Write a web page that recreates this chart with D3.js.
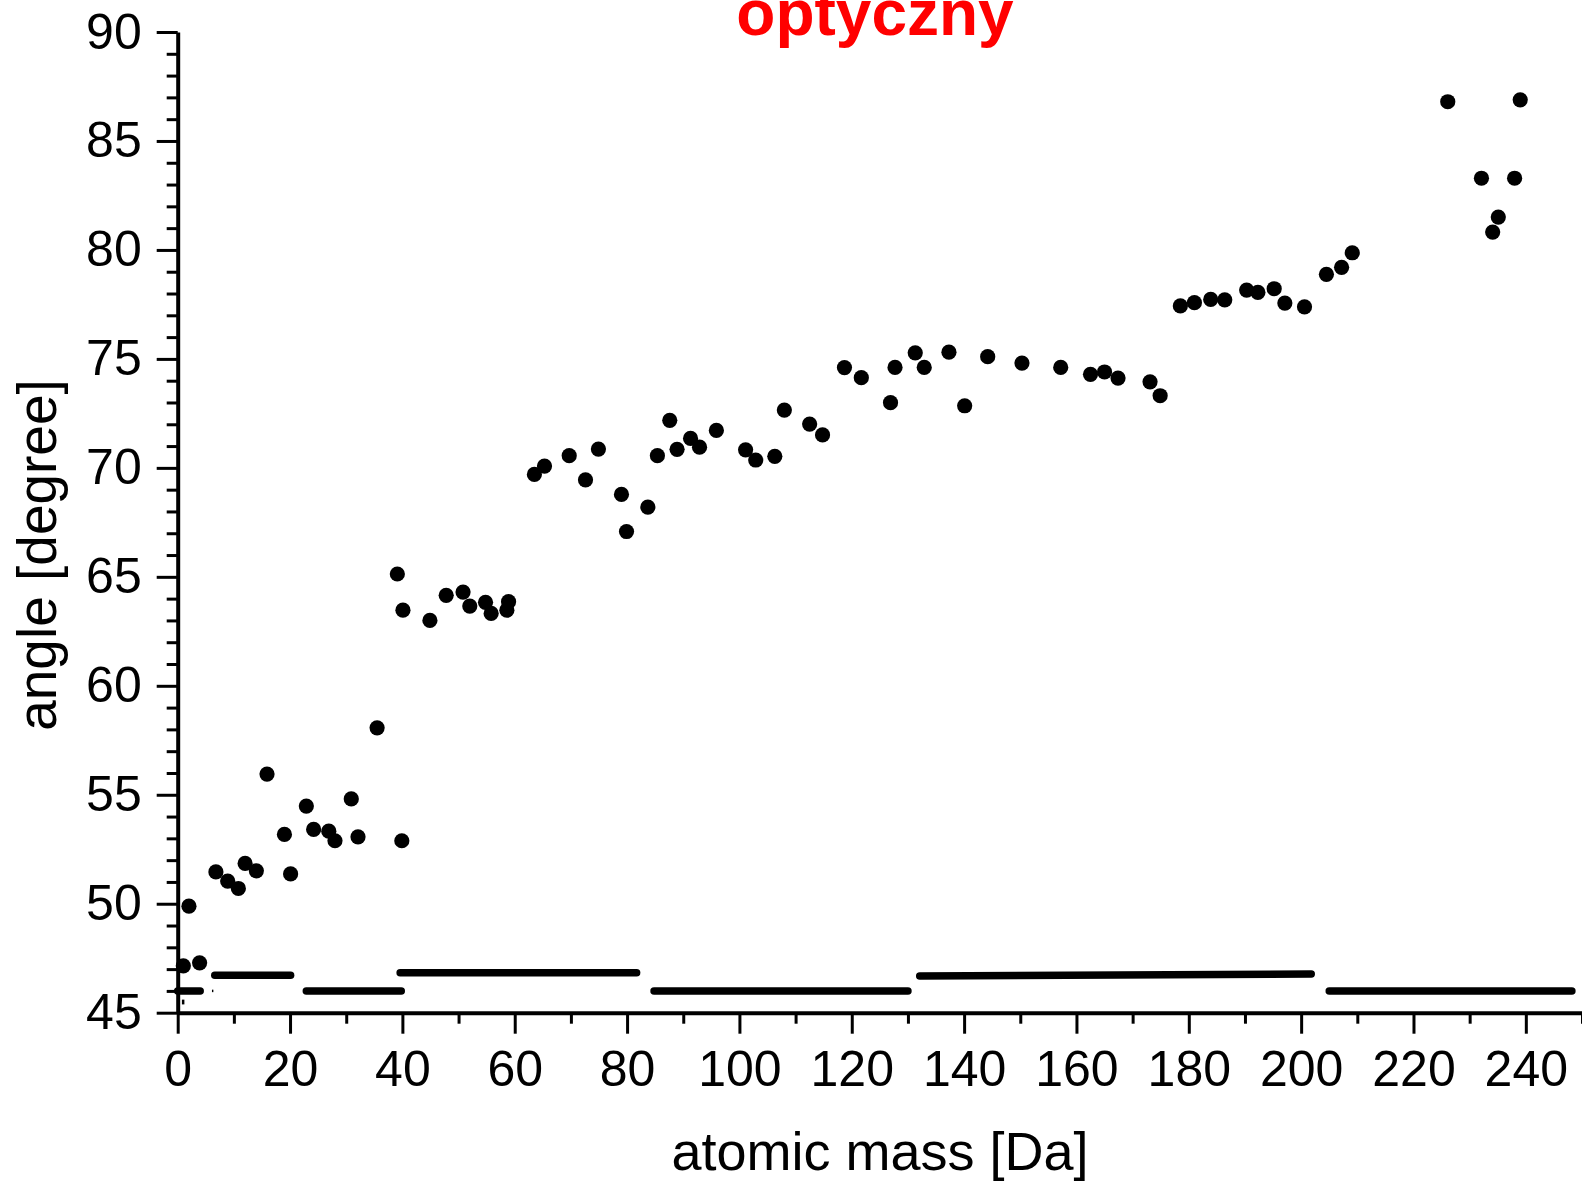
<!DOCTYPE html>
<html>
<head>
<meta charset="utf-8">
<script src="https://cdn.jsdelivr.net/npm/d3@7"></script>
<style>
  html, body { margin: 0; padding: 0; background: #fff; overflow: hidden; }
  svg { display: block; }
</style>
</head>
<body>
<svg id="chart" width="1582" height="1183"></svg>
<script>
// ---- data ----
const massX = [1.0, 2.0, 3.9, 6.8, 8.9, 10.8, 12.0, 14.0, 15.9, 19.0, 20.1, 22.9, 24.2, 26.9, 28.0, 30.9, 32.1, 35.5,
  39.1, 39.9, 40.1, 44.9, 47.8, 50.8, 52.0, 54.8, 55.8, 58.6, 58.9,
  63.5, 65.3, 69.7, 72.6, 74.9, 79.0, 79.9, 83.7, 85.4, 87.6, 88.9, 91.3, 92.9, 95.9,
  101.1, 102.9, 106.3, 108.0, 112.5, 114.8, 118.7, 121.7, 126.9, 127.7, 131.3, 132.9, 137.3, 140.1, 144.2,
  150.3, 157.2, 162.5, 165.0, 167.4, 173.1, 174.9,
  178.5, 181.0, 183.9, 186.4, 190.3, 192.3, 195.2, 197.1, 200.6, 204.5, 207.2, 209.1,
  226.1, 232.1, 234.1, 235.1, 238.0, 239.0];
const angleY = [47.15, 49.89, 47.29, 51.46, 51.04, 50.70, 51.85, 51.51, 55.95, 53.18, 51.37, 54.48, 53.41, 53.33, 52.89, 54.81, 53.07, 58.07,
  65.13, 52.89, 63.47, 63.0, 64.15, 64.3, 63.66, 63.83, 63.32, 63.47, 63.86,
  69.70, 70.08, 70.56, 69.45, 70.86, 68.78, 67.08, 68.2, 70.56, 72.18, 70.85, 71.35, 70.95, 71.72,
  70.83, 70.36, 70.53, 72.65, 72.01, 71.51, 74.6, 74.14, 72.99, 74.61, 75.28, 74.61, 75.31, 72.85, 75.1,
  74.81, 74.61, 74.29, 74.4, 74.12, 73.95, 73.31,
  77.43, 77.58, 77.73, 77.71, 78.16, 78.05, 78.22, 77.56, 77.39, 78.88, 79.2, 79.87,
  86.8, 83.29, 80.82, 81.51, 83.29, 86.89];

// horizontal level segments
const segX0 = [0.0, 6.6, 22.9, 39.6, 84.8, 132.1, 205.0];
const segX1 = [4.0, 20.1, 39.8, 81.7, 130.0, 201.8, 248.2];
const segY0 = [46.0, 46.72, 46.0, 46.83, 46.0, 46.68, 46.0];
const segY1 = [46.0, 46.72, 46.0, 46.83, 46.0, 46.78, 46.0];
// small stray marks
const markX0 = [6.1, 0.97];
const markX1 = [6.35, 0.97];
const markY0 = [46.0, 45.38];
const markY1 = [46.0, 45.6];

const xMajorTicks = d3.range(0, 251, 20);
const xMinorTicks = d3.range(0, 251, 10);
const yMajorTicks = d3.range(45, 91, 5);
const yMinorTicks = d3.range(45, 91, 1);

const titleText = "optyczny";
const xTitle = "atomic mass [Da]";
const yTitle = "angle [degree]";

// ---- layout ----
const svg = d3.select("#chart");
const mLeft = 177.7, mRight = 1582, mTop = 32, mBottom = 1012.7;
const x = d3.scaleLinear().domain([0, 250]).range([mLeft, mRight]);
const y = d3.scaleLinear().domain([45, 90]).range([mBottom, mTop]);
const font = "'Liberation Sans', Arial, Helvetica, sans-serif";

// minor ticks
svg.append("g").attr("transform", `translate(0,${mBottom})`)
  .call(d3.axisBottom(x).tickValues(xMinorTicks.filter(v => v % 20 !== 0)).tickSize(11).tickFormat(""))
  .call(g => g.select(".domain").remove())
  .call(g => g.selectAll("line").attr("stroke", "#000").attr("stroke-width", 3));
svg.append("g").attr("transform", `translate(${mLeft},0)`)
  .call(d3.axisLeft(y).tickValues(yMinorTicks.filter(v => v % 5 !== 0)).tickSize(11).tickFormat(""))
  .call(g => g.select(".domain").remove())
  .call(g => g.selectAll("line").attr("stroke", "#000").attr("stroke-width", 3));

// major axes
const xAxis = svg.append("g").attr("transform", `translate(0,${mBottom})`)
  .call(d3.axisBottom(x).tickValues(xMajorTicks).tickSize(21).tickSizeOuter(0).tickPadding(17).tickFormat(d3.format("d")));
xAxis.select(".domain").attr("stroke", "#000").attr("stroke-width", 4);
xAxis.selectAll(".tick line").attr("stroke", "#000").attr("stroke-width", 3);
xAxis.selectAll("text").attr("font-family", font).attr("font-size", 50).attr("fill", "#000");

const yAxis = svg.append("g").attr("transform", `translate(${mLeft},0)`)
  .call(d3.axisLeft(y).tickValues(yMajorTicks).tickSize(21).tickSizeOuter(0).tickPadding(15).tickFormat(d3.format("d")));
yAxis.select(".domain").attr("stroke", "#000").attr("stroke-width", 4);
yAxis.selectAll(".tick line").attr("stroke", "#000").attr("stroke-width", 3);
yAxis.selectAll("text").attr("font-family", font).attr("font-size", 50).attr("fill", "#000");

// segments
svg.append("g").selectAll("line").data(segX0.map((v, i) => i)).join("line")
  .attr("x1", i => x(segX0[i])).attr("x2", i => x(segX1[i]))
  .attr("y1", i => y(segY0[i])).attr("y2", i => y(segY1[i]))
  .attr("stroke", "#000").attr("stroke-width", 7.5).attr("stroke-linecap", "round");
svg.append("g").selectAll("line").data(markX0.map((v, i) => i)).join("line")
  .attr("x1", i => x(markX0[i])).attr("x2", i => x(markX1[i]))
  .attr("y1", i => y(markY0[i])).attr("y2", i => y(markY1[i]))
  .attr("stroke", "#000").attr("stroke-width", 2.5).attr("stroke-linecap", "butt");

// points
svg.append("g").selectAll("circle").data(massX.map((v, i) => i)).join("circle")
  .attr("cx", i => x(massX[i])).attr("cy", i => y(angleY[i]))
  .attr("r", 7.6).attr("fill", "#000");

// titles
svg.append("text").attr("x", 875).attr("y", 35).attr("text-anchor", "middle")
  .attr("font-family", font).attr("font-weight", "bold").attr("font-size", 64).attr("fill", "#ff0000")
  .text(titleText);
svg.append("text").attr("x", 880).attr("y", 1170).attr("text-anchor", "middle")
  .attr("font-family", font).attr("font-size", 54).attr("fill", "#000").text(xTitle);
svg.append("text").attr("transform", "translate(56,555) rotate(-90)").attr("text-anchor", "middle")
  .attr("font-family", font).attr("font-size", 55).attr("fill", "#000").text(yTitle);
</script>
</body>
</html>
